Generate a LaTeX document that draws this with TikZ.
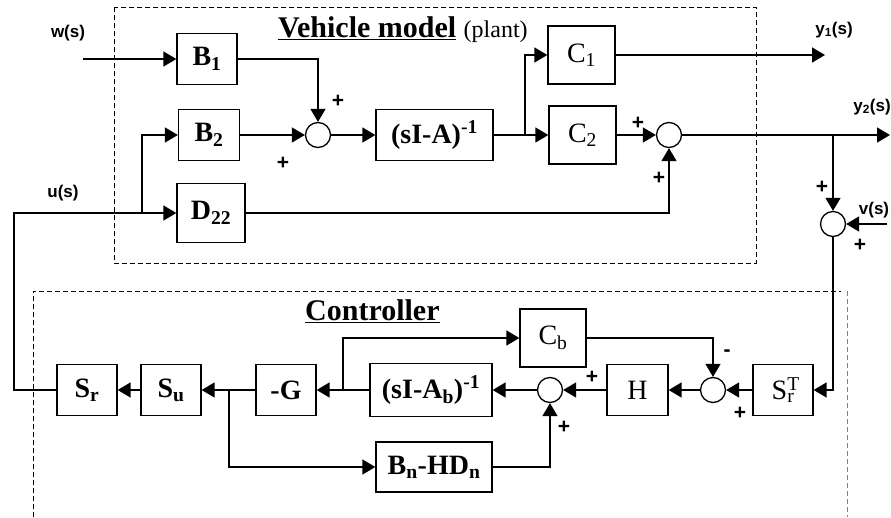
\documentclass[tikz,border=0pt]{standalone}
\usepackage{fontspec}
\setmainfont{Liberation Serif}
\setsansfont{Liberation Sans}
\usetikzlibrary{arrows.meta, positioning}
\tikzset{
  blk/.style={
    draw, line width=1.3pt, inner sep=0pt,
    minimum width=60pt, minimum height=51pt,
    font=\fontsize{28}{30}\selectfont\bfseries,
  },
  blkreg/.style={
    blk, font=\fontsize{28}{30}\selectfont,
  },
  sumnode/.style={
    circle, draw, line width=1.3pt, minimum size=25pt, inner sep=0pt,
  },
  sig/.style={font=\sffamily\bfseries\fontsize{21}{21}\selectfont, inner sep=0pt},
  lbl/.style={font=\sffamily\bfseries\fontsize{17}{19}\selectfont, inner sep=0pt},
  ttl/.style={font=\fontsize{30}{32}\selectfont\bfseries, inner sep=0pt, anchor=base west},
  arw/.style={-{Triangle[length=13pt, width=15pt]}, line width=1.5pt},
  zone/.style={line width=0.9pt, dash pattern=on 5pt off 3pt},
}

\begin{document}
\begin{tikzpicture}[x=1pt, y=-1pt]
  \useasboundingbox (0,0) rectangle (891,517);

  % Dashed zones
  \draw[zone] (114,7) rectangle (756,263);
  \draw[zone] (33,517) -- (33,291) -- (841,291);
  \draw[zone, gray] (847,291) -- (847,517);

  % Titles
  \node[ttl] (plantttl) at (278,37)
    {\underline{Vehicle model} {\mdseries\fontsize{24}{26}\selectfont (plant)}};
  \node[ttl] (ctrlttl) at (305,320) {\underline{Controller}};

  % Plant blocks
  \node[blk] (B1) at (207,59) {B\textsubscript{1}};
  \node[blk, minimum width=61pt] (B2) at (209,135) {B\textsubscript{2}};
  \node[blk, minimum width=68pt, minimum height=59pt] (D22) at (211,213) {D\textsubscript{22}};
  \node[sumnode] (sum1) at (318,135) {};
  \node[blk, minimum width=117pt] (sIA) at (434.5,135) {(sI-A)\textsuperscript{-1}};
  \node[blkreg, minimum width=67pt, minimum height=58pt] (C1) at (581.5,55) {C\textsubscript{1}};
  \node[blkreg, minimum width=67pt, minimum height=58pt] (C2) at (582.5,135) {C\textsubscript{2}};
  \node[sumnode] (sum2) at (669,135) {};
  \node[sumnode] (sum3) at (833,224) {};

  % Controller blocks
  \node[blk] (Sr) at (87,390) {S\textsubscript{r}};
  \node[blk] (Su) at (171,390) {S\textsubscript{u}};
  \node[blk] (G) at (286,390) {-G};
  \node[blk, minimum width=122pt, minimum height=53pt] (sIAb) at (431,390)
    {(sI-A\textsubscript{b})\textsuperscript{-1}};
  \node[blkreg, minimum width=66pt, minimum height=58pt] (Cb) at (553,338) {C\textsubscript{b}};
  \node[sumnode] (sum4) at (550,390) {};
  \node[blkreg, minimum width=61pt] (H) at (637.5,390) {H};
  \node[sumnode] (sum5) at (713,390) {};
  \node[blkreg] (SrT) at (783,390) {S\rlap{\textsuperscript{T}}\textsubscript{r}};
  \node[blk, minimum width=116pt, minimum height=50pt] (BnHDn) at (434,467)
    {B\textsubscript{n}-HD\textsubscript{n}};

  % Signals
  \node[lbl] (wlab) at (68,33) {w(s)};
  \node[lbl] (ulab) at (63,193) {u(s)};
  \node[lbl] (y1lab) at (834,30) {y\textsubscript{1}(s)};
  \node[lbl] (y2lab) at (872,107) {y\textsubscript{2}(s)};
  \node[lbl] (vlab) at (874,210) {v(s)};
  \coordinate (win) at (83,59);
  \coordinate (y1end) at (825,55);
  \coordinate (y2end) at (890,135);
  \coordinate (vin) at (887,224);
  \coordinate (ucorner) at (14,213);
  \coordinate (j0) at (142,213);
  \coordinate (j1) at (525,135);
  \coordinate (j2) at (833,135);
  \coordinate (j3) at (343,390);
  \coordinate (j4) at (229,390);

  % Plant connectors
  \draw[arw] (win) -- (B1);
  \draw[arw] (B1.east) -| (sum1.north);
  \draw[arw] (B2) -- (sum1);
  \draw[arw] (sum1) -- (sIA);
  \draw[arw] (sIA.east) -- (C2.west);
  \draw[arw] (j1) |- (C1.west);
  \draw[arw] (C1.east |- y1end) -- (y1end);
  \draw[arw] (C2) -- (sum2);
  \draw[arw] (D22.east) -| (sum2.south);
  \draw[arw] (sum2) -- (y2end);
  \draw[arw] (j2) -- (sum3.north);
  \draw[arw] (vin) -- (sum3.east);

  % Loop connectors
  \draw[arw] (sum3.south) |- (SrT.east);
  \draw[arw] (SrT) -- (sum5);
  \draw[arw] (sum5) -- (H);
  \draw[arw] (H) -- (sum4);
  \draw[arw] (sum4) -- (sIAb);
  \draw[arw] (sIAb) -- (G);
  \draw[arw] (j3) |- (Cb.west);
  \draw[arw] (Cb.east) -| (sum5.north);
  \draw[arw] (G) -- (Su);
  \draw[arw] (Su) -- (Sr);
  \draw[arw] (j4) |- (BnHDn.west);
  \draw[arw] (BnHDn.east) -| (sum4.south);
  \draw[arw] (Sr.west) -| (ucorner) -- (D22.west);
  \draw[arw] (j0) |- (B2.west);

  % Signs
  \node[sig] (p1) at (338,101) {+};
  \node[sig] (p2) at (283,163) {+};
  \node[sig] (p3) at (638,123) {+};
  \node[sig] (p4) at (659,178) {+};
  \node[sig] (p5) at (822,187) {+};
  \node[sig] (p6) at (860,245) {+};
  \node[sig] (p7) at (592,377) {+};
  \node[sig] (p8) at (564,427) {+};
  \node[sig] (p9) at (740,413) {+};
  \node[sig] (m1) at (727,353) {-};

\end{tikzpicture}
\end{document}
